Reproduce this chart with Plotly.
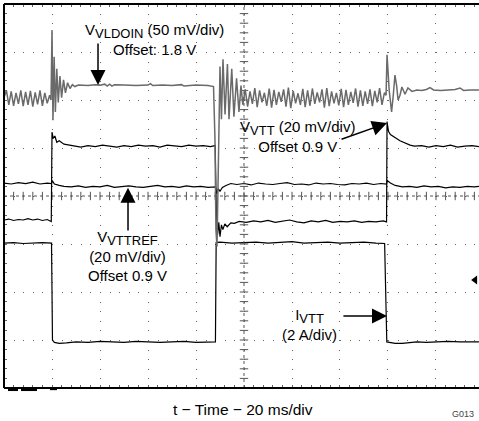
import numpy as np
import plotly.graph_objects as go

# ---------------- data (time in ms, amplitude in scope divisions) ----------------
t_vldoin = ([0, 1, 2, 3, 4, 5, 6, 7, 8, 9, 10, 11, 12, 13, 14, 15, 16, 17, 18, 19, 19.6]
            + [20.0, 20.4, 20.9, 21.4, 22.0, 22.6, 23.3, 24.0, 24.8, 25.6, 26.5, 27.5, 28.5, 29.5, 31.0]
            + [35, 38, 40, 42, 43, 44, 45, 46, 50, 55, 60, 61, 62, 66, 70, 74, 75, 80, 85, 87.3]
            + [87.9, 88.3, 88.75, 89.2, 89.6, 90.0, 90.6, 91.25, 92.1, 93.1, 93.75, 94.9, 95.8, 96.9, 97.9, 98.75]
            + [99.5 + k for k in range(60)] + [159.2]
            + [159.6, 160.5, 161.5, 162.2, 162.9, 163.6, 164.2, 165.0, 165.8, 167.1, 168.3, 170.0]
            + [172, 174, 176, 177.5, 179, 182, 185, 188, 190, 191.5, 194, 197.9])
v_vldoin = ([6.05, 6.2, 5.9, 6.18, 5.88, 6.15, 5.92, 6.2, 5.87, 6.17, 5.9, 6.19, 5.86, 6.16, 5.91, 6.2, 5.88, 6.15, 5.93, 6.1, 6.0]
            + [7.46, 5.58, 6.9, 5.75, 6.65, 5.95, 6.5, 6.05, 6.42, 6.15, 6.36, 6.24, 6.32, 6.28, 6.31]
            + [6.30, 6.32, 6.31, 6.33, 6.29, 6.33, 6.29, 6.32, 6.31, 6.30, 6.31, 6.34, 6.30, 6.31, 6.30, 6.32, 6.29, 6.31, 6.30, 6.28]
            + [5.2, 3.3, 2.95, 4.6, 6.2, 6.7, 5.6, 6.85, 5.7, 6.75, 5.6, 6.65, 5.65, 6.45, 5.75, 6.3]
            + [5.9, 6.22, 5.86, 6.18, 5.92, 6.25, 5.85, 6.2, 5.95, 6.15,
               5.88, 6.24, 5.84, 6.21, 5.9, 6.17, 5.96, 6.22, 5.86, 6.26,
               5.83, 6.19, 5.93, 6.14, 5.9, 6.23, 5.85, 6.2, 5.88, 6.24,
               5.92, 6.16, 5.95, 6.22, 5.84, 6.25, 5.87, 6.18, 5.93, 6.15,
               5.89, 6.23, 5.85, 6.21, 5.9, 6.17, 5.94, 6.24, 5.86, 6.2,
               5.88, 6.18, 5.92, 6.22, 5.87, 6.19, 5.95, 6.25, 5.9, 6.15] + [6.1]
            + [6.94, 6.2, 5.75, 6.1, 6.52, 6.3, 6.0, 6.1, 6.27, 6.12, 6.25, 6.18]
            + [6.21, 6.2, 6.22, 6.26, 6.21, 6.2, 6.21, 6.22, 6.25, 6.2, 6.21, 6.21])

t_vtt = ([0, 2, 4, 6, 8, 10, 12, 14, 16, 18, 19.7]
         + [20.0, 20.5, 21.2, 22, 23, 25, 27, 29, 32]
         + [35, 38, 41, 44, 47, 50, 53, 56, 59, 62, 65, 68, 71, 74, 77, 80, 83, 86, 88.0]
         + [88.5, 89, 89.5, 90, 90.6, 91.2, 92, 93, 94.5, 96, 98]
         + [101, 104, 107, 110, 113, 116, 119, 122, 125, 128, 131, 134, 137, 140, 143, 146, 149, 152, 155, 158, 159.4]
         + [159.6, 160.2, 161, 162, 165, 169.2, 171]
         + [174, 177, 180, 183, 186, 189, 192, 195, 197.9])
v_vtt = ([3.50, 3.52, 3.49, 3.51, 3.50, 3.53, 3.50, 3.52, 3.49, 3.51, 3.47]
         + [5.33, 5.2, 5.25, 5.12, 5.15, 5.08, 5.06, 5.04, 5.02]
         + [5.05, 5.03, 5.06, 5.04, 5.02, 5.05, 5.03, 5.06, 5.04, 5.05, 5.02, 5.06, 5.04, 5.03, 5.06, 5.04, 5.05, 5.03, 5.05]
         + [3.6, 3.2, 3.45, 3.15, 3.4, 3.3, 3.42, 3.36, 3.44, 3.43, 3.47]
         + [3.45, 3.48, 3.46, 3.49, 3.45, 3.47, 3.5, 3.46, 3.44, 3.48, 3.46, 3.49, 3.45, 3.47, 3.46, 3.48, 3.45, 3.47, 3.46, 3.48, 3.46]
         + [5.55, 5.35, 5.28, 5.25, 5.15, 5.06, 5.04]
         + [5.05, 5.02, 5.05, 5.03, 5.06, 5.02, 5.04, 5.05, 5.03])

t_vttref = ([0, 3, 6, 9, 12, 15, 18, 19.8]
            + [20.1, 21, 23, 25]
            + [28, 31, 34, 37, 40, 43, 46, 49, 52, 55, 58, 61, 64, 67, 70, 73, 76, 79, 82, 85, 88.1]
            + [88.6, 89.3, 90, 91, 92.5, 94.5]
            + [97, 100, 103, 106, 109, 112, 115, 118, 121, 124, 127, 130, 133, 136, 139, 142, 145, 148, 151, 154, 157, 159.4]
            + [159.7, 161, 163, 166]
            + [169, 172, 175, 178, 181, 184, 187, 190, 193, 196, 197.9])
v_vttref = ([4.27, 4.25, 4.28, 4.26, 4.29, 4.25, 4.27, 4.26]
            + [4.32, 4.25, 4.22, 4.2]
            + [4.19, 4.21, 4.18, 4.2, 4.19, 4.22, 4.18, 4.2, 4.21, 4.19, 4.18, 4.2, 4.22, 4.19, 4.2, 4.18, 4.21, 4.19, 4.2, 4.18, 4.19]
            + [4.05, 4.15, 4.1, 4.18, 4.22, 4.26]
            + [4.24, 4.26, 4.23, 4.27, 4.25, 4.24, 4.26, 4.28, 4.24, 4.25, 4.23, 4.27, 4.25, 4.26, 4.24, 4.23, 4.26, 4.25, 4.27, 4.24, 4.26, 4.25]
            + [4.32, 4.27, 4.22, 4.19]
            + [4.2, 4.18, 4.21, 4.19, 4.2, 4.17, 4.19, 4.18, 4.2, 4.19, 4.2])

t_ivtt = ([0, 4, 8, 12, 16, 19.8]
          + [20.2, 21, 23, 26, 30, 35, 40, 45, 50, 55, 60, 65, 70, 75, 80, 85, 88.1]
          + [88.4, 90, 95, 100, 105, 110, 115, 120, 125, 130, 135, 140, 145, 150, 155, 158.6]
          + [159.5, 161, 163, 166, 169, 172, 176, 180, 185, 190, 197.9])
i_ivtt = ([3.02, 3.03, 3.01, 3.02, 3.03, 3.02]
          + [1.0, 0.95, 0.93, 0.94, 0.96, 0.95, 0.97, 0.96, 0.95, 0.97, 0.96, 0.95, 0.96, 0.97, 0.95, 0.96, 0.96]
          + [3.03, 3.04, 3.02, 3.03, 3.04, 3.02, 3.03, 3.05, 3.02, 3.03, 3.04, 3.02, 3.03, 3.04, 3.02, 3.01]
          + [0.96, 0.95, 0.93, 0.93, 0.94, 0.96, 0.95, 0.96, 0.97, 0.96, 0.96])

x_title = "t − Time − 20 ms/div"
fig_code = "G013"

X_MAX = 197.92  # visible part of the 10-division screen (20 ms/div)
Y_MAX = 8.0

FONT = "Liberation Sans, Arial, Helvetica, sans-serif"

fig = go.Figure()

# center graticule ticks
cx = np.arange(0, X_MAX + 0.01, 4)
cy = np.arange(0, Y_MAX + 0.01, 0.2)
fig.add_trace(go.Scatter(x=cx, y=np.full(len(cx), 4.0), mode="markers",
                         marker=dict(symbol="line-ns-open", size=6, color="#555",
                                     line=dict(width=1, color="#555")),
                         hoverinfo="skip", showlegend=False))
fig.add_trace(go.Scatter(x=np.full(len(cy), 100.0), y=cy, mode="markers",
                         marker=dict(symbol="line-ew-open", size=6, color="#555",
                                     line=dict(width=1, color="#555")),
                         hoverinfo="skip", showlegend=False))

# traces
fig.add_trace(go.Scatter(x=t_ivtt, y=i_ivtt, mode="lines", line=dict(color="black", width=1.2),
                         hoverinfo="skip", showlegend=False))
fig.add_trace(go.Scatter(x=t_vttref, y=v_vttref, mode="lines", line=dict(color="black", width=1.2),
                         hoverinfo="skip", showlegend=False))
fig.add_trace(go.Scatter(x=t_vtt, y=v_vtt, mode="lines", line=dict(color="black", width=1.2),
                         hoverinfo="skip", showlegend=False))
fig.add_trace(go.Scatter(x=t_vldoin, y=v_vldoin, mode="lines", line=dict(color="#6a6a6a", width=1.5),
                         hoverinfo="skip", showlegend=False))

# channel / trigger markers
fig.add_trace(go.Scatter(x=[-1.2], y=[6.08], mode="markers", cliponaxis=False,
                         marker=dict(symbol="triangle-right", size=9, color="black"),
                         hoverinfo="skip", showlegend=False))
fig.add_trace(go.Scatter(x=[196.3], y=[2.25], mode="markers", cliponaxis=False,
                         marker=dict(symbol="triangle-left", size=8, color="black"),
                         hoverinfo="skip", showlegend=False))

shapes = [
    # center dotted lines
    dict(type="line", xref="x", yref="y", x0=0, x1=X_MAX, y0=4, y1=4,
         line=dict(color="#555", width=1, dash="dot")),
    dict(type="line", xref="x", yref="y", x0=100, x1=100, y0=0, y1=Y_MAX,
         line=dict(color="#555", width=1, dash="dot")),
    # frame (left, top, bottom)
    dict(type="line", xref="paper", yref="paper", x0=0, x1=0, y0=0, y1=1,
         line=dict(color="black", width=2)),
    dict(type="line", xref="paper", yref="paper", x0=0, x1=1, y0=1, y1=1,
         line=dict(color="black", width=2)),
    dict(type="line", xref="paper", yref="paper", x0=0, x1=1, y0=0, y1=0,
         line=dict(color="black", width=2)),
    # scope indicator blobs on bottom edge
    dict(type="line", xref="paper", yref="paper", x0=4 / 475, x1=14 / 475, y0=-0.004, y1=-0.004,
         line=dict(color="black", width=3)),
    dict(type="line", xref="paper", yref="paper", x0=17 / 475, x1=33 / 475, y0=-0.004, y1=-0.004,
         line=dict(color="black", width=3)),
    dict(type="line", xref="paper", yref="paper", x0=46 / 475, x1=53 / 475, y0=-0.003, y1=-0.003,
         line=dict(color="black", width=2)),
]

tf = dict(family=FONT, size=15, color="black")
annotations = []

def txt(x, y, s):
    annotations.append(dict(x=x, y=y, xref="x", yref="y", text=s, showarrow=False,
                            xanchor="center", yanchor="middle", align="center", font=tf,
                            borderpad=0))

def arrow(x, y, ax, ay):
    annotations.append(dict(x=x, y=y, ax=ax, ay=ay, xref="x", yref="y", axref="x", ayref="y",
                            text="", showarrow=True, arrowhead=2, arrowsize=2, arrowwidth=1.5,
                            arrowcolor="black", standoff=0, startstandoff=0))

SUB = "<sub><span style='font-size:13px'>%s</span></sub>"

txt(62.6, 7.27, "V" + SUB % "VLDOIN" + " (50 mV/div)<br>Offset: 1.8 V")
arrow(39.17, 6.31, 39.17, 7.21)

txt(122.1, 5.25, "V" + SUB % "VTT" + " (20 mV/div)<br>Offset 0.9 V")
arrow(159.6, 5.52, 140.0, 5.17)

txt(51.5, 2.76, "V" + SUB % "VTTREF" + "<br>(20 mV/div)<br>Offset 0.9 V")
arrow(51.67, 4.17, 51.67, 3.25)

txt(127.3, 1.32, "I" + SUB % "VTT" + "<br>(2 A/div)")
arrow(159.6, 1.5, 140.8, 1.5)

annotations.append(dict(x=0.504, y=-0.055, xref="paper", yref="paper", text=x_title, showarrow=False,
                        xanchor="center", yanchor="middle", font=dict(family=FONT, size=15.5, color="black")))
annotations.append(dict(x=0.992, y=-0.0845, xref="paper", yref="paper", text=fig_code, showarrow=False,
                        xanchor="right", yanchor="bottom", borderpad=0,
                        font=dict(family=FONT, size=9, color="#444")))

grid_dash_x = "1px,8.6px"
fig.update_layout(
    width=479, height=421,
    margin=dict(l=4, r=0, t=4, b=33),
    paper_bgcolor="white", plot_bgcolor="white",
    shapes=shapes, annotations=annotations,
    hovermode=False,
    xaxis=dict(range=[0, X_MAX], tick0=0, dtick=20, showgrid=True, gridcolor="#666", gridwidth=1,
               griddash=grid_dash_x, zeroline=False, showline=False, ticks="inside", ticklen=3,
               tickcolor="#666", mirror="ticks", showticklabels=False,
               minor=dict(tick0=0, dtick=4, ticks="inside", ticklen=3, tickcolor="#666", showgrid=False)),
    yaxis=dict(range=[0, Y_MAX], tick0=0, dtick=1, showgrid=True, gridcolor="#666", gridwidth=1,
               griddash=grid_dash_x, zeroline=False, showline=False, ticks="inside", ticklen=3,
               tickcolor="#666", showticklabels=False,
               minor=dict(tick0=0, dtick=0.2, ticks="inside", ticklen=3, tickcolor="#666", showgrid=False)),
)

fig.write_html("out.html", config={"displayModeBar": False})
